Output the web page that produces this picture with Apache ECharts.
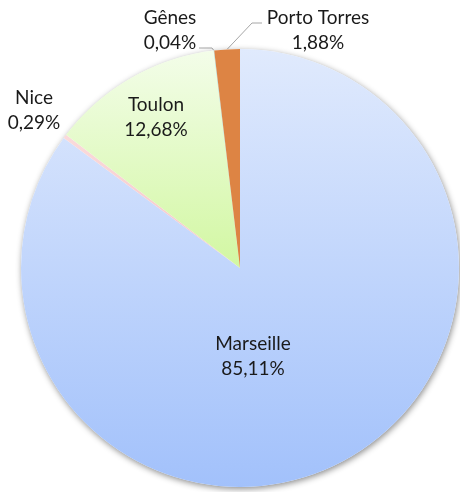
<!DOCTYPE html>
<html>
<head>
<meta charset="utf-8">
<style>
html,body{margin:0;padding:0;background:#fff;}
#c{width:460px;height:492px;}
</style>
<script src="https://cdn.jsdelivr.net/npm/echarts@6/dist/echarts.min.js"></script>
</head>
<body>
<div id="c"></div>
<script>
// Data (percent shares, clockwise from 12 o'clock)
const categories = ['Marseille', 'Nice', 'Toulon', 'Gênes', 'Porto Torres'];
const shares = [85.11, 0.29, 12.68, 0.04, 1.88];

// Styling
const sliceColors = [
  ['#e0eafd', '#a2c1fb'],
  ['#fadadb', '#f4c6c8'],
  ['#f3fde9', '#d2f7a2'],
  ['#a6dcd9', '#8ccfcb'],
  ['#dd8444', '#dd8444']
];
const labelInside = [true, false, true, false, false];
// label centres (px) and leader-line bends
const labelCenters = [[253, 356], [34, 110], [156, 117], [170, 30], [318, 30]];
const leaderBends = [null, null, null, [[212, 48], [199, 48]], [[252, 23], [262, 23]]];

const CX = 240, CY = 268, R = 219;

const chart = echarts.init(document.getElementById('c'));

function fmt(v) { return v.toFixed(2).replace('.', ',') + '%'; }

const pieData = categories.map((name, i) => ({
  name: name,
  value: shares[i],
  itemStyle: {
    color: new echarts.graphic.LinearGradient(0, 0, 0, 1, [
      { offset: 0, color: sliceColors[i][0] },
      { offset: 1, color: sliceColors[i][1] }
    ])
  },
  label: { position: labelInside[i] ? 'inside' : 'outside' },
  labelLine: { show: !!leaderBends[i] }
}));

chart.setOption({
  animation: false,
  backgroundColor: '#ffffff',
  series: [
    {
      type: 'pie',
      silent: true,
      center: [CX, CY],
      radius: [0, R],
      label: { show: false },
      labelLine: { show: false },
      itemStyle: {
        color: '#ffffff',
        borderWidth: 0,
        shadowBlur: 6,
        shadowOffsetX: 1,
        shadowOffsetY: 2,
        shadowColor: 'rgba(0,0,0,0.45)'
      },
      data: [{ value: 1, name: '' }]
    },
    {
      type: 'pie',
      center: [CX, CY],
      radius: [0, R],
      startAngle: 90,
      clockwise: true,
      avoidLabelOverlap: false,
      silent: true,
      itemStyle: { borderWidth: 0 },
      label: {
        show: true,
        fontFamily: 'Lato',
        fontSize: 19,
        color: '#1a1a1a',
        lineHeight: 25,
        align: 'center',
        formatter: p => p.name + '\n' + fmt(p.value)
      },
      labelLine: {
        length: 10,
        length2: 10,
        lineStyle: { color: '#a6a6a6', width: 1 }
      },
      labelLayout: function (p) {
        const i = p.dataIndex;
        const c = labelCenters[i];
        const out = { x: c[0], y: c[1], align: 'center', verticalAlign: 'middle' };
        if (leaderBends[i]) {
          let start;
          if (p.labelLinePoints && p.labelLinePoints[0]) {
            start = p.labelLinePoints[0];
          } else {
            let acc = 0;
            for (let k = 0; k < i; k++) acc += shares[k];
            const total = shares.reduce((a, b) => a + b, 0);
            const ang = (acc + shares[i] / 2) / total * 2 * Math.PI;
            start = [CX + R * Math.sin(ang), CY - R * Math.cos(ang)];
          }
          out.labelLinePoints = [start].concat(leaderBends[i]);
        }
        return out;
      },
      data: pieData
    }
  ]
});
</script>
</body>
</html>
